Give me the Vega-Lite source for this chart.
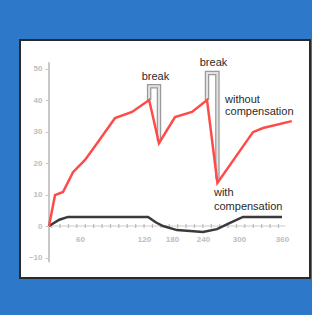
{
  "$schema": "https://vega.github.io/schema/vega-lite/v6.json",
  "width": 290,
  "height": 238,
  "autosize": {"type": "none"},
  "padding": {"left": 20, "top": 40, "right": 2, "bottom": 37},
  "background": "#2d78c8",
  "config": {
    "view": {"fill": "white", "stroke": "#2a2a2a", "strokeWidth": 2},
    "font": "Liberation Sans",
    "axis": {"labelOverlap": false, "grid": false, "title": null, "labelColor": "#bdbdbd", "labelFontSize": 8, "labelFontWeight": "bold"},
    "axisY": {"offset": -29, "domain": false, "ticks": true, "tickColor": "#c8c8c8", "tickSize": 4, "labelPadding": 3},
    "axisX": {"offset": -52, "domain": false, "ticks": false, "labelPadding": 9}
  },
  "datasets": {
    "one": [{"k": 1}],
    "lines": [
      {"s": "without", "x": 0, "y": 0},
      {"s": "without", "x": 11.6, "y": 9.8},
      {"s": "without", "x": 27.1, "y": 10.8},
      {"s": "without", "x": 46.5, "y": 17.1},
      {"s": "without", "x": 64.7, "y": 21},
      {"s": "without", "x": 76.9, "y": 26.7},
      {"s": "without", "x": 92.8, "y": 34.3},
      {"s": "without", "x": 108.8, "y": 36.2},
      {"s": "without", "x": 131, "y": 40},
      {"s": "without", "x": 152.1, "y": 26.3},
      {"s": "without", "x": 185.8, "y": 34.6},
      {"s": "without", "x": 218.7, "y": 36.2},
      {"s": "without", "x": 246.7, "y": 40},
      {"s": "without", "x": 264, "y": 13.7},
      {"s": "without", "x": 319.5, "y": 29.8},
      {"s": "without", "x": 333.5, "y": 31.1},
      {"s": "without", "x": 374, "y": 33.3},
      {"s": "with", "x": 0, "y": 0},
      {"s": "with", "x": 20, "y": 2},
      {"s": "with", "x": 36.8, "y": 2.9},
      {"s": "with", "x": 128.6, "y": 2.9},
      {"s": "with", "x": 145, "y": 1.2},
      {"s": "with", "x": 160.7, "y": 0},
      {"s": "with", "x": 189.7, "y": -1.3},
      {"s": "with", "x": 240, "y": -1.9},
      {"s": "with", "x": 263.3, "y": -1},
      {"s": "with", "x": 285, "y": 1},
      {"s": "with", "x": 305.6, "y": 2.9},
      {"s": "with", "x": 360, "y": 2.9}
    ],
    "brackets": [
      {"b": "b1", "o": 1, "x": 131, "y": 40},
      {"b": "b1", "o": 2, "x": 131, "y": 44.4},
      {"b": "b1", "o": 3, "x": 152.1, "y": 44.4},
      {"b": "b1", "o": 4, "x": 152.1, "y": 27},
      {"b": "b2", "o": 1, "x": 246.7, "y": 40},
      {"b": "b2", "o": 2, "x": 246.7, "y": 48.6},
      {"b": "b2", "o": 3, "x": 264, "y": 48.6},
      {"b": "b2", "o": 4, "x": 264, "y": 15}
    ],
    "centerLabels": [
      {"x": 144.6, "y": 47.4, "t": "break"},
      {"x": 257.5, "y": 51.6, "t": "break"}
    ],
    "leftLabels": [
      {"x": 276.7, "y": 40, "t": "without"},
      {"x": 276.7, "y": 36.1, "t": "compensation"},
      {"x": 258.3, "y": 10.4, "t": "with"},
      {"x": 258.3, "y": 6.1, "t": "compensation"}
    ]
  },
  "encoding": {
    "x": {"type": "quantitative", "scale": {"type": "linear", "domain": [0, 60, 120, 180, 240, 300, 360, 380], "range": [29, 60, 124, 152, 183, 219, 262, 276], "zero": false, "nice": false}, "axis": {"values": [60, 120, 180, 240, 300, 360], "labelOverlap": false}},
    "y": {"type": "quantitative", "scale": {"domain": [-16.5, 59.05], "zero": false, "nice": false}, "axis": {"values": [-10, 0, 10, 20, 30, 40, 50], "labelOverlap": false}}
  },
  "layer": [
    {
      "data": {"name": "one"},
      "mark": {"type": "rule", "color": "#cccccc", "strokeWidth": 1},
      "encoding": {
        "x": {"datum": 0, "type": "quantitative"},
        "x2": {"datum": 365},
        "y": {"datum": 0, "type": "quantitative"}
      }
    },
    {
      "data": {"name": "one"},
      "mark": {"type": "rule", "color": "#bbbbbb", "strokeWidth": 4, "strokeDash": [1.2, 7.2]},
      "encoding": {
        "x": {"datum": 4, "type": "quantitative"},
        "x2": {"datum": 365},
        "y": {"datum": 0, "type": "quantitative"}
      }
    },
    {
      "data": {"name": "one"},
      "mark": {"type": "rule", "color": "#c8c8c8", "strokeWidth": 2},
      "encoding": {
        "x": {"datum": 0, "type": "quantitative"},
        "y": {"datum": -11.5, "type": "quantitative"},
        "y2": {"datum": 52}
      }
    },
    {
      "data": {"name": "brackets"},
      "mark": {"type": "line", "color": "#9a9a9a", "strokeWidth": 4.5},
      "encoding": {
        "x": {"field": "x", "type": "quantitative"},
        "y": {"field": "y", "type": "quantitative"},
        "detail": {"field": "b"},
        "order": {"field": "o"}
      }
    },
    {
      "data": {"name": "brackets"},
      "mark": {"type": "line", "color": "#e2e2e2", "strokeWidth": 2},
      "encoding": {
        "x": {"field": "x", "type": "quantitative"},
        "y": {"field": "y", "type": "quantitative"},
        "detail": {"field": "b"},
        "order": {"field": "o"}
      }
    },
    {
      "data": {"name": "lines"},
      "transform": [{"filter": "datum.s === 'with'"}],
      "mark": {"type": "line", "color": "#3a3a3a", "strokeWidth": 2.5},
      "encoding": {
        "x": {"field": "x", "type": "quantitative"},
        "y": {"field": "y", "type": "quantitative"}
      }
    },
    {
      "data": {"name": "lines"},
      "transform": [{"filter": "datum.s === 'without'"}],
      "mark": {"type": "line", "color": "#ff4a4a", "strokeWidth": 2.5},
      "encoding": {
        "x": {"field": "x", "type": "quantitative"},
        "y": {"field": "y", "type": "quantitative"}
      }
    },
    {
      "data": {"name": "centerLabels"},
      "mark": {"type": "text", "align": "center", "baseline": "middle", "fontSize": 11, "color": "#2a2a2a"},
      "encoding": {
        "x": {"field": "x", "type": "quantitative"},
        "y": {"field": "y", "type": "quantitative"},
        "text": {"field": "t"}
      }
    },
    {
      "data": {"name": "leftLabels"},
      "mark": {"type": "text", "align": "left", "baseline": "middle", "fontSize": 11, "color": "#2a2a2a"},
      "encoding": {
        "x": {"field": "x", "type": "quantitative"},
        "y": {"field": "y", "type": "quantitative"},
        "text": {"field": "t"}
      }
    }
  ]
}
